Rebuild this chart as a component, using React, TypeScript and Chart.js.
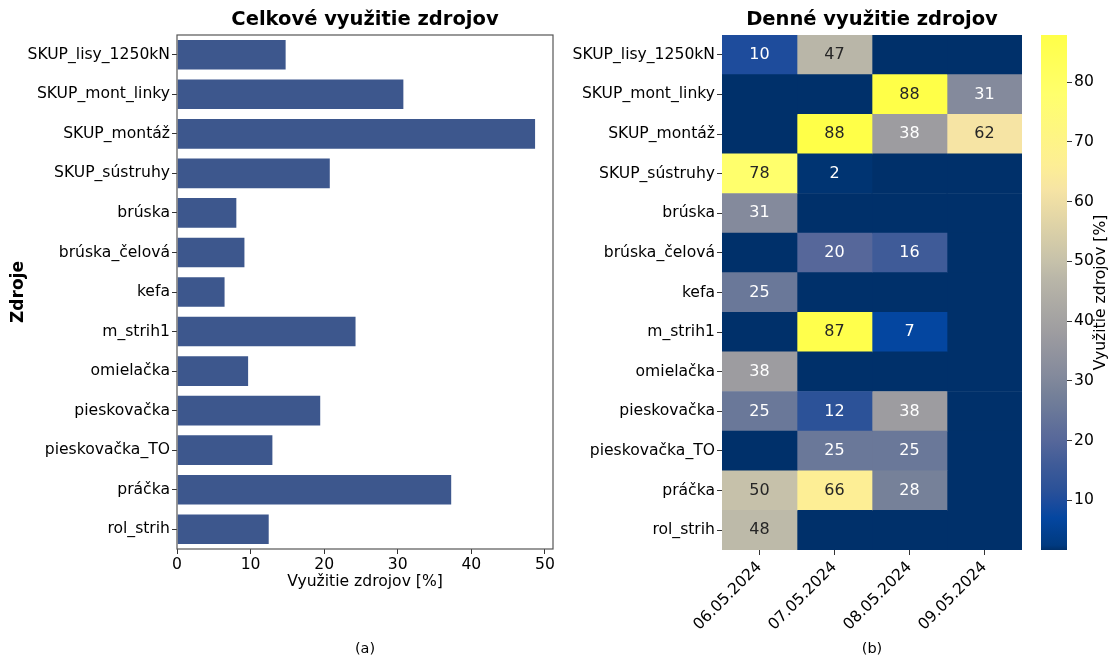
import React, { useEffect, useRef } from "react";
import { Chart, registerables } from "chart.js";

Chart.register(...registerables);

// ---------- data ----------
const resources = [
  "SKUP_lisy_1250kN",
  "SKUP_mont_linky",
  "SKUP_montáž",
  "SKUP_sústruhy",
  "brúska",
  "brúska_čelová",
  "kefa",
  "m_strih1",
  "omielačka",
  "pieskovačka",
  "pieskovačka_TO",
  "práčka",
  "rol_strih",
];
const totalUsage = [14.9, 30.9, 48.8, 20.9, 8.2, 9.3, 6.6, 24.4, 9.8, 19.6, 13.1, 37.4, 12.6];
const dates = ["06.05.2024", "07.05.2024", "08.05.2024", "09.05.2024"];
const day0605 = [10, 0, 0, 78, 31, 0, 25, 0, 38, 25, 0, 50, 48];
const day0705 = [47, 0, 88, 2, 0, 20, 0, 87, 0, 12, 25, 66, 0];
const day0805 = [0, 88, 38, 0, 0, 16, 0, 7, 0, 38, 25, 28, 0];
const day0905 = [0, 31, 62, 0, 0, 0, 0, 0, 0, 0, 0, 0, 0];
const dailyUsage = [day0605, day0705, day0805, day0905];
const xTicks = [0, 10, 20, 30, 40, 50];
const colorbarTicks = [10, 20, 30, 40, 50, 60, 70, 80];
const colorMin = 1.7;
const colorMax = 87.9;

// ---------- styles ----------
const FONT = "'DejaVu Sans', sans-serif";
const BAR_COLOR = "#3d578d";
const cmapStops: [number, string][] = [
  [0, "#00306a"],
  [1.7, "#00306a"],
  [2.5, "#003a80"],
  [7, "#0446a0"],
  [10, "#1e4c9c"],
  [12, "#2c5298"],
  [16, "#3f5b98"],
  [20, "#56679a"],
  [25, "#6a7899"],
  [28, "#768199"],
  [31, "#848a9c"],
  [38, "#9d9ca0"],
  [47, "#b9b6a8"],
  [50, "#c6c1aa"],
  [62, "#f6e4a4"],
  [66, "#fdee95"],
  [78, "#ffff6c"],
  [88, "#ffff48"],
];

function hexToRgb(h: string) {
  const n = parseInt(h.slice(1), 16);
  return [(n >> 16) & 255, (n >> 8) & 255, n & 255];
}
function colorFor(v: number) {
  if (v <= cmapStops[0][0]) return cmapStops[0][1];
  for (let i = 1; i < cmapStops.length; i++) {
    const [v1, c1] = cmapStops[i];
    const [v0, c0] = cmapStops[i - 1];
    if (v <= v1) {
      const t = (v - v0) / (v1 - v0 || 1);
      const a = hexToRgb(c0);
      const b = hexToRgb(c1);
      const r = a.map((x, k) => Math.round(x + (b[k] - x) * t));
      return `rgb(${r[0]},${r[1]},${r[2]})`;
    }
  }
  return cmapStops[cmapStops.length - 1][1];
}

function drawText(
  ctx: CanvasRenderingContext2D,
  text: string,
  x: number,
  y: number,
  font: string,
  color = "#000",
  rotate = 0
) {
  ctx.save();
  ctx.translate(x, y);
  if (rotate) ctx.rotate(rotate);
  ctx.font = font;
  ctx.fillStyle = color;
  ctx.textAlign = "center";
  ctx.textBaseline = "middle";
  ctx.fillText(text, 0, 0);
  ctx.restore();
}

const tickFont = { family: FONT, size: 15.6 };
const TITLE_Y = 20;
const CAPTION_Y = 649;

export default function App() {
  const barRef = useRef<HTMLCanvasElement>(null);
  const heatRef = useRef<HTMLCanvasElement>(null);
  const cbRef = useRef<HTMLCanvasElement>(null);

  useEffect(() => {
    const charts: Chart[] = [];

    // ---------- (a) bar chart ----------
    const barDecor = {
      id: "barDecor",
      afterDraw(chart: any) {
        const { ctx, chartArea: a } = chart;
        ctx.save();
        ctx.strokeStyle = "#555";
        ctx.lineWidth = 1.2;
        ctx.strokeRect(a.left, a.top, a.right - a.left, a.bottom - a.top);
        ctx.restore();
        const cx = (a.left + a.right) / 2;
        drawText(ctx, "Celkové využitie zdrojov", cx, TITLE_Y, `bold 19.5px ${FONT}`);
        drawText(ctx, "(a)", cx, CAPTION_Y, `14.5px ${FONT}`);
      },
    };
    charts.push(
      new Chart(barRef.current!, {
        type: "bar",
        data: {
          labels: resources,
          datasets: [
            {
              data: totalUsage,
              backgroundColor: BAR_COLOR,
              borderColor: "rgba(255,255,255,0.6)",
              borderWidth: 1,
              categoryPercentage: 0.8,
              barPercentage: 1,
            },
          ],
        },
        options: {
          indexAxis: "y",
          responsive: false,
          animation: false,
          layout: { padding: { left: 0, top: 35, right: 558, bottom: 64 } },
          plugins: { legend: { display: false }, tooltip: { enabled: false }, title: { display: false } },
          scales: {
            x: {
              type: "linear",
              min: 0,
              max: 51.1,
              afterBuildTicks: (s: any) => {
                s.ticks = xTicks.map((v) => ({ value: v }));
              },
              afterFit: (s: any) => {
                s.height = 45;
              },
              grid: { display: true, drawOnChartArea: false, tickLength: 5, color: "#333" },
              border: { display: false },
              ticks: { color: "#000", font: tickFont, padding: 2, maxRotation: 0 },
              title: {
                display: true,
                text: "Využitie zdrojov [%]",
                color: "#000",
                font: tickFont,
                padding: { top: 0, bottom: 3 },
              },
            },
            y: {
              afterFit: (s: any) => {
                s.width = 177;
              },
              grid: { display: true, offset: false, drawOnChartArea: false, tickLength: 5, color: "#333" },
              border: { display: false },
              ticks: { color: "#000", font: tickFont, padding: 2 },
              title: {
                display: true,
                text: "Zdroje",
                color: "#000",
                font: { family: FONT, size: 17, weight: "bold" },
                padding: { top: 8, bottom: 0 },
              },
            },
          },
        } as any,
        plugins: [barDecor],
      })
    );

    // ---------- (b) heatmap ----------
    const heatDecor = {
      id: "heatDecor",
      afterDatasetsDraw(chart: any) {
        const { ctx } = chart;
        dailyUsage.forEach((arr, i) => {
          const meta = chart.getDatasetMeta(i);
          meta.data.forEach((el: any, j: number) => {
            const v = arr[j];
            if (!v) return;
            const cx = (el.x + el.base) / 2;
            drawText(ctx, String(v), cx, el.y, `16px ${FONT}`, v >= 45 ? "#262626" : "#ffffff");
          });
        });
      },
      afterDraw(chart: any) {
        const { ctx, chartArea: a } = chart;
        const cx = (a.left + a.right) / 2;
        drawText(ctx, "Denné využitie zdrojov", cx, TITLE_Y, `bold 19.5px ${FONT}`);
        drawText(ctx, "(b)", cx, CAPTION_Y, `14.5px ${FONT}`);
      },
    };
    const heatXHeight = 80;
    charts.push(
      new Chart(heatRef.current!, {
        type: "bar",
        data: {
          labels: resources,
          datasets: dailyUsage.map((arr, i) => ({
            label: dates[i],
            data: arr.map(() => 1),
            backgroundColor: arr.map((v) => colorFor(v)),
            borderWidth: 0,
            categoryPercentage: 1,
            barPercentage: 1,
          })),
        },
        options: {
          indexAxis: "y",
          responsive: false,
          animation: false,
          layout: { padding: { left: 0, top: 35, right: 89, bottom: 658 - 550 - heatXHeight } },
          plugins: { legend: { display: false }, tooltip: { enabled: false } },
          scales: {
            x: {
              type: "linear",
              stacked: true,
              min: 0,
              max: dates.length,
              afterBuildTicks: (s: any) => {
                s.ticks = dates.map((_, i) => ({ value: i + 0.5 }));
              },
              afterFit: (s: any) => {
                s.height = heatXHeight;
              },
              grid: { display: true, drawOnChartArea: false, tickLength: 5, color: "#333" },
              border: { display: false },
              ticks: {
                color: "#000",
                font: tickFont,
                padding: 3,
                minRotation: 45,
                maxRotation: 45,
                callback: (v: any) => dates[Math.floor(Number(v))],
              },
            },
            y: {
              stacked: true,
              afterFit: (s: any) => {
                s.width = 722;
              },
              grid: { display: true, offset: false, drawOnChartArea: false, tickLength: 5, color: "#333" },
              border: { display: false },
              ticks: { color: "#000", font: tickFont, padding: 2 },
            },
          },
        } as any,
        plugins: [heatDecor],
      })
    );

    // ---------- colorbar ----------
    const cbDecor = {
      id: "cbDecor",
      afterDraw(chart: any) {
        const { ctx, chartArea: a } = chart;
        drawText(ctx, "Využitie zdrojov [%]", 1101, (a.top + a.bottom) / 2, `15.6px ${FONT}`, "#000", -Math.PI / 2);
      },
    };
    charts.push(
      new Chart(cbRef.current!, {
        type: "bar",
        data: {
          labels: [""],
          datasets: [
            {
              data: [[colorMin, colorMax]],
              backgroundColor: (c: any) => {
                const chart = c.chart;
                const a = chart.chartArea;
                if (!a) return "#888";
                const g = chart.ctx.createLinearGradient(0, a.bottom, 0, a.top);
                cmapStops.forEach(([v, col]) => {
                  const p = (v - colorMin) / (colorMax - colorMin);
                  if (p >= 0 && p <= 1) g.addColorStop(p, col);
                });
                g.addColorStop(0, colorFor(colorMin));
                g.addColorStop(1, colorFor(colorMax));
                return g;
              },
              borderWidth: 0,
              categoryPercentage: 1,
              barPercentage: 1,
            },
          ],
        },
        options: {
          responsive: false,
          animation: false,
          layout: { padding: { left: 1041, top: 35, right: 0, bottom: 108 } },
          plugins: { legend: { display: false }, tooltip: { enabled: false } },
          scales: {
            x: { display: false },
            y: {
              position: "right",
              min: colorMin,
              max: colorMax,
              afterBuildTicks: (s: any) => {
                s.ticks = colorbarTicks.map((v) => ({ value: v }));
              },
              afterFit: (s: any) => {
                s.width = 44;
              },
              grid: { display: true, drawOnChartArea: false, tickLength: 5, color: "#333" },
              border: { display: false },
              ticks: { color: "#000", font: tickFont, padding: 2 },
            },
          },
        } as any,
        plugins: [cbDecor],
      })
    );

    return () => charts.forEach((c) => c.destroy());
  }, []);

  const canvasStyle: React.CSSProperties = { position: "absolute", left: 0, top: 0 };
  return (
    <div style={{ position: "absolute", left: 0, top: 0, width: 1111, height: 658, background: "#fff" }}>
      <canvas ref={barRef} width={1111} height={658} style={canvasStyle} />
      <canvas ref={heatRef} width={1111} height={658} style={canvasStyle} />
      <canvas ref={cbRef} width={1111} height={658} style={canvasStyle} />
    </div>
  );
}
